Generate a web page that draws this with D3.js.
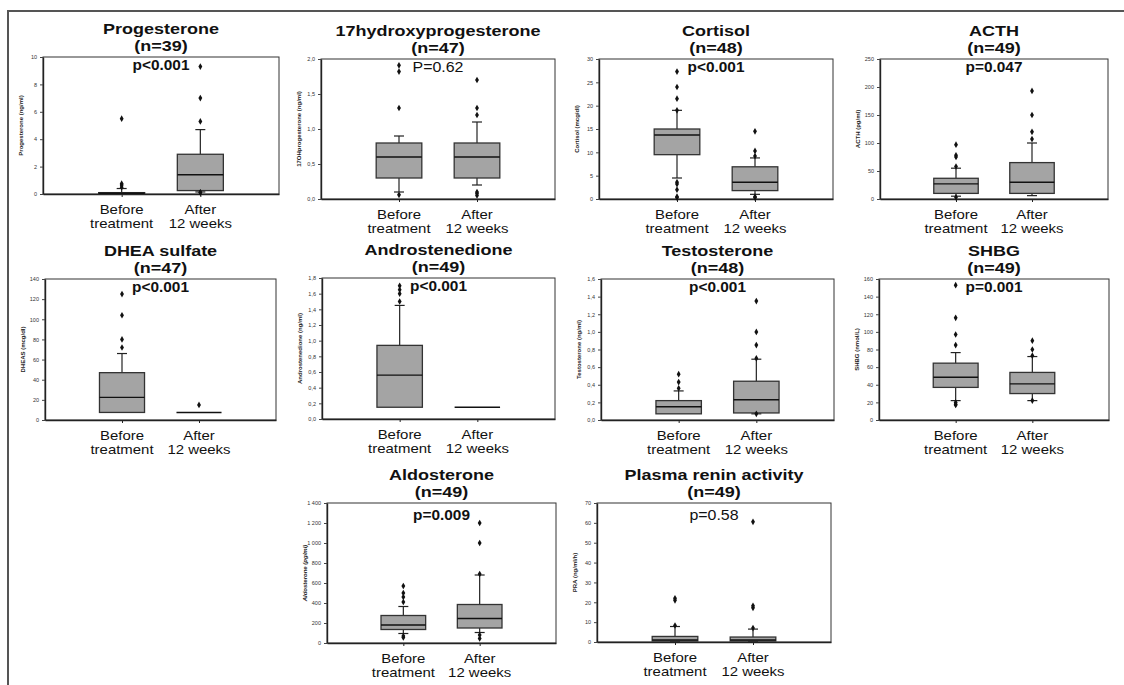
<!DOCTYPE html>
<html><head><meta charset="utf-8">
<script src="https://cdn.jsdelivr.net/npm/d3@7"></script>
<style>
body{margin:0;background:#fff}
text{font-family:Arial,"Liberation Sans",Helvetica,sans-serif}
</style>
</head><body>
<svg id="chart" width="1124" height="685"></svg>
<script>
// ---------------- DATA ----------------
const titles = ["Progesterone","17hydroxyprogesterone","Cortisol","ACTH","DHEA sulfate","Androstenedione","Testosterone","SHBG","Aldosterone","Plasma renin activity"];
const nLabels = ["(n=39)","(n=47)","(n=48)","(n=49)","(n=47)","(n=49)","(n=48)","(n=49)","(n=49)","(n=49)"];
const pLabels = ["p<0.001","P=0.62","p<0.001","p=0.047","p<0.001","p<0.001","p<0.001","p=0.001","p=0.009","p=0.58"];
const pSignificant = [true,false,true,true,true,true,true,true,true,false];
const yTitles = ["Progesterone (ng/ml)","17OHprogesterone (ng/ml)","Cortisol (mcg/dl)","ACTH (pg/ml)","DHEAS (mcg/dl)","Androstenedione (ng/ml)","Testosterone (ng/ml)","SHBG (nmol/L)","Aldosterone (pg/ml)","PRA (ng/ml/h)"];
const yMaxima = [10,2,30,250,140,1.8,1.6,160,1400,70];
const yTickValues = [
  [0,2,4,6,8,10],
  [0,0.5,1,1.5,2],
  [0,5,10,15,20,25,30],
  [0,50,100,150,200,250],
  [0,20,40,60,80,100,120,140],
  [0,0.2,0.4,0.6,0.8,1.0,1.2,1.4,1.6,1.8],
  [0,0.2,0.4,0.6,0.8,1.0,1.2,1.4,1.6],
  [0,20,40,60,80,100,120,140,160],
  [0,200,400,600,800,1000,1200,1400],
  [0,10,20,30,40,50,60,70]
];
const yTickLabels = [
  ["0","2","4","6","8","10"],
  ["0,0","0,5","1,0","1,5","2,0"],
  ["0","5","10","15","20","25","30"],
  ["0","50","100","150","200","250"],
  ["0","20","40","60","80","100","120","140"],
  ["0,0","0,2","0,4","0,6","0,8","1,0","1,2","1,4","1,6","1,8"],
  ["0,0","0,2","0,4","0,6","0,8","1,0","1,2","1,4","1,6"],
  ["0","20","40","60","80","100","120","140","160"],
  ["0","200","400","600","800","1 000","1 200","1 400"],
  ["0","10","20","30","40","50","60","70"]
];
const groups = ["Before","After"];
const groupLine1 = ["Before","After"];
const groupLine2 = ["treatment","12 weeks"];
// [lower whisker, Q1, median, Q3, upper whisker]
const beforeStats = [
  [0.0,0.02,0.05,0.1,0.4],
  [0.1,0.3,0.6,0.8,0.9],
  [4.5,9.5,13.7,15,19],
  [5,10,27,37,55],
  [7.5,7.5,22.5,47,66],
  [0.15,0.15,0.56,0.94,1.45],
  [0.07,0.07,0.15,0.22,0.33],
  [22,37,48.5,64.5,76.5],
  [95,135,180,275,365],
  [0.3,0.5,1.0,2.8,7.8]
];
const afterStats = [
  [0.15,0.25,1.4,2.9,4.7],
  [0.2,0.3,0.6,0.8,1.1],
  [1.0,1.8,3.6,6.9,8.8],
  [6,10,30,65,100],
  [7.5,7.5,7.5,7.5,7.5],
  [0.15,0.15,0.15,0.15,0.15],
  [0.07,0.08,0.23,0.44,0.69],
  [22,30,41,54,72],
  [105,150,245,385,680],
  [0.3,0.5,1.0,2.5,6.5]
];
const beforeOutliers = [
  [0.5,0.65,0.75,5.5],
  [0.06,1.3,1.82,1.91],
  [0.3,0.5,2,3.2,3.6,19,21.5,24,27.3],
  [3,58,75,78,97],
  [72,80,104,125],
  [1.5,1.6,1.65,1.7],
  [0.36,0.43,0.52],
  [17,18,20,85,97,116,153],
  [55,70,410,460,500,570],
  [8.3,21,22]
];
const afterOutliers = [
  [0.1,0.12,5.3,7.0,9.3],
  [0.05,0.08,0.1,1.2,1.3,1.7],
  [0.3,0.5,9.2,10.3,14.5],
  [107,120,150,193],
  [15],
  [],
  [0.07,0.7,0.85,1.0,1.35],
  [22,73,80,90],
  [45,80,690,1000,1200],
  [7.0,17.2,18.2,60.5]
];

// ---------------- LAYOUT ----------------
const frames = [
  [43,57,279,194],[321,59,555,199],[599,59,833,199],[880,59,1108,199],
  [45,279,276,420],[322,278,555,419],[601,279,834,420],[879,279,1109,420],
  [327,503,556,643],[597,503,831,642]
];
const pDy = [13,13,13,13,13,13,13,13,17,17];

const svg = d3.select("#chart");
svg.append("rect").attr("width",1124).attr("height",685).attr("fill","#fff");
// outer figure border
svg.append("path").attr("d","M8,685V11H1124").attr("fill","none").attr("stroke","#555").attr("stroke-width",2);

function stretchedText(sel, x, y, sx, txt){
  return sel.append("text").attr("transform",`translate(${x},${y}) scale(${sx},1)`).attr("text-anchor","middle").text(txt);
}

titles.forEach((t,i)=>{
  const [x0,y0,x1,y1] = frames[i];
  const w = x1-x0, h = y1-y0;
  const g = svg.append("g").attr("transform",`translate(${x0},${y0})`);
  const y = d3.scaleLinear().domain([0,yMaxima[i]]).range([h,0]);
  const x = d3.scalePoint().domain(groups).range([0,w]).padding(1);
  const bw = w*0.195;

  // frame
  g.append("rect").attr("width",w).attr("height",h).attr("fill","none").attr("stroke","#333").attr("stroke-width",1);

  // y axis
  const ya = g.append("g").call(d3.axisLeft(y).tickValues(yTickValues[i]).tickFormat((d,k)=>yTickLabels[i][k]).tickSize(3).tickSizeOuter(0));
  ya.select(".domain").attr("stroke","#222").attr("stroke-width",1.4);
  ya.selectAll(".tick line").attr("stroke","#444");
  ya.selectAll(".tick text").attr("font-size",5.5).attr("fill","#333").attr("x",-6);

  // x axis
  const xa = g.append("g").attr("transform",`translate(0,${h})`).call(d3.axisBottom(x).tickSize(3).tickSizeOuter(0).tickFormat(""));
  xa.select(".domain").attr("stroke","#222").attr("stroke-width",1.4);
  xa.selectAll(".tick line").attr("stroke","#222");

  // y title
  g.append("text").attr("transform",`translate(-20,${h/2}) rotate(-90)`).attr("text-anchor","middle")
    .attr("font-size",6).attr("font-weight","bold").attr("fill","#222")
    .attr("font-style", i===8 ? "italic" : "normal").text(yTitles[i]);

  // titles
  stretchedText(g, w/2, -23, 1.2, t).attr("font-size",15).attr("font-weight","bold").attr("fill","#111");
  stretchedText(g, w/2, -6, 1.2, nLabels[i]).attr("font-size",15).attr("font-weight","bold").attr("fill","#111");
  stretchedText(g, w/2, pDy[i], 1.1, pLabels[i])
    .attr("font-size",pSignificant[i]?14:14.5).attr("font-weight",pSignificant[i]?"bold":"normal").attr("fill","#111");

  // x labels
  groups.forEach((gr,k)=>{
    stretchedText(g, x(gr), h+20, 1.15, groupLine1[k]).attr("font-size",13).attr("fill","#111");
    stretchedText(g, x(gr), h+34, 1.15, groupLine2[k]).attr("font-size",13).attr("fill","#111");
  });

  // boxes
  const stats = [beforeStats[i], afterStats[i]];
  const outs = [beforeOutliers[i], afterOutliers[i]];
  groups.forEach((gr,k)=>{
    const [lo,q1,md,q3,hi] = stats[k];
    const cx = x(gr);
    const bg = g.append("g");
    // whiskers
    bg.append("line").attr("x1",cx).attr("x2",cx).attr("y1",y(q3)).attr("y2",y(hi)).attr("stroke","#222").attr("stroke-width",1.2);
    bg.append("line").attr("x1",cx).attr("x2",cx).attr("y1",y(q1)).attr("y2",y(lo)).attr("stroke","#222").attr("stroke-width",1.2);
    if (hi>q3) bg.append("line").attr("x1",cx-5).attr("x2",cx+5).attr("y1",y(hi)).attr("y2",y(hi)).attr("stroke","#222").attr("stroke-width",1.2);
    if (lo<q1) bg.append("line").attr("x1",cx-5).attr("x2",cx+5).attr("y1",y(lo)).attr("y2",y(lo)).attr("stroke","#222").attr("stroke-width",1.2);
    // box
    bg.append("rect").attr("x",cx-bw/2).attr("width",bw).attr("y",y(q3)).attr("height",Math.max(0,y(q1)-y(q3)))
      .attr("fill","#a4a4a4").attr("stroke","#333").attr("stroke-width",1.3);
    bg.append("line").attr("x1",cx-bw/2).attr("x2",cx+bw/2).attr("y1",y(md)).attr("y2",y(md)).attr("stroke","#111").attr("stroke-width",1.4);
    // outliers
    bg.selectAll("path.o").data(outs[k]).enter().append("path").attr("class","o")
      .attr("d",d3.symbol().type(d3.symbolDiamond).size(13))
      .attr("transform",d=>`translate(${cx},${y(d)})`).attr("fill","#111");
  });
});
</script>
</body></html>
